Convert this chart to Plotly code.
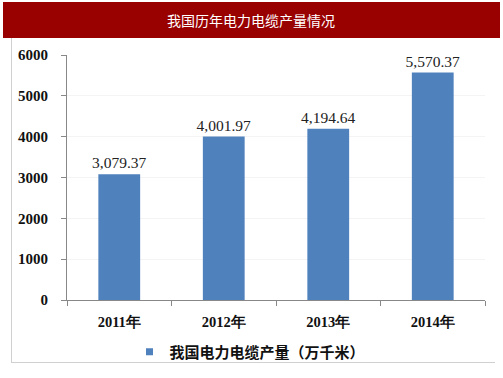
import plotly.graph_objects as go

categories = ["2011年", "2012年", "2013年", "2014年"]
values = [3079.37, 4001.97, 4194.64, 5570.37]
labels = ["3,079.37", "4,001.97", "4,194.64", "5,570.37"]
series_name = "我国电力电缆产量（万千米）"
title_text = "我国历年电力电缆产量情况"
y_ticks = [0, 1000, 2000, 3000, 4000, 5000, 6000]

W, H = 503, 378
L, R, T, B = 67, 18, 55, 78
BAR_COLOR = "#4F81BD"

fig = go.Figure()
fig.add_trace(go.Bar(
    x=categories, y=values, name=series_name, showlegend=False,
    marker=dict(color=BAR_COLOR, line=dict(width=0)),
    text=labels, textposition="outside", cliponaxis=False, constraintext="none",
    textfont=dict(family="Liberation Serif", size=15.5, color="#222222"),
    width=0.4,
))
# legend entry with a small square swatch
fig.add_trace(go.Scatter(
    x=[None], y=[None], mode="markers", name=series_name,
    marker=dict(symbol="square", size=7, color=BAR_COLOR),
))

def px_x(x):
    return (x - L) / (W - L - R)

def px_y(y):
    return (H - B - y) / (H - T - B)

shapes = [
    dict(type="rect", xref="paper", yref="paper", x0=px_x(3), x1=px_x(500), y0=px_y(38), y1=px_y(2),
         fillcolor="#990000", line=dict(width=0), layer="below"),
    dict(type="line", xref="paper", yref="paper", x0=px_x(11.5), x1=px_x(11.5), y0=px_y(38), y1=px_y(362),
         line=dict(color="#d0d0d0", width=1)),
    dict(type="line", xref="paper", yref="paper", x0=px_x(11), x1=px_x(495), y0=px_y(362.5), y1=px_y(362.5),
         line=dict(color="#d0d0d0", width=1)),
]

fig.update_layout(
    width=W, height=H,
    margin=dict(l=L, r=R, t=T, b=B, autoexpand=False),
    paper_bgcolor="white", plot_bgcolor="white",
    shapes=shapes,
    annotations=[dict(text=title_text, xref="paper", yref="paper", x=px_x(251), y=px_y(20),
                      showarrow=False, xanchor="center", yanchor="middle",
                      font=dict(family="Noto Sans CJK SC", size=14, color="white"))],
    showlegend=True,
    legend=dict(orientation="h", x=px_x(250), xanchor="center", y=px_y(352), yanchor="middle",
                font=dict(family="Noto Sans CJK SC", size=15, color="#111111", weight="bold"),
                itemwidth=30, bgcolor="rgba(0,0,0,0)", itemsizing="trace"),
    xaxis=dict(showline=True, linecolor="#888888", linewidth=1, automargin=False,
               ticks="outside", ticklen=5, tickcolor="#888888", tickson="boundaries",
               tickfont=dict(family="Liberation Serif", size=14.5, color="#111111", weight="bold"),
               showgrid=False, ticklabelstandoff=9),
    yaxis=dict(range=[0, 6000], tickvals=y_ticks, showline=True, linecolor="#888888", linewidth=1,
               automargin=False,
               ticks="outside", ticklen=5, tickcolor="#888888",
               tickfont=dict(family="Liberation Serif", size=15, color="#111111", weight="bold"),
               showgrid=True, gridcolor="#f4f4f4", zeroline=False, ticklabelstandoff=10),
)

fig.write_html(
    "out.html",
    config={"displayModeBar": False},
    post_script="document.body.style.margin='0';document.body.style.padding='0';document.body.style.overflow='hidden';",
)
